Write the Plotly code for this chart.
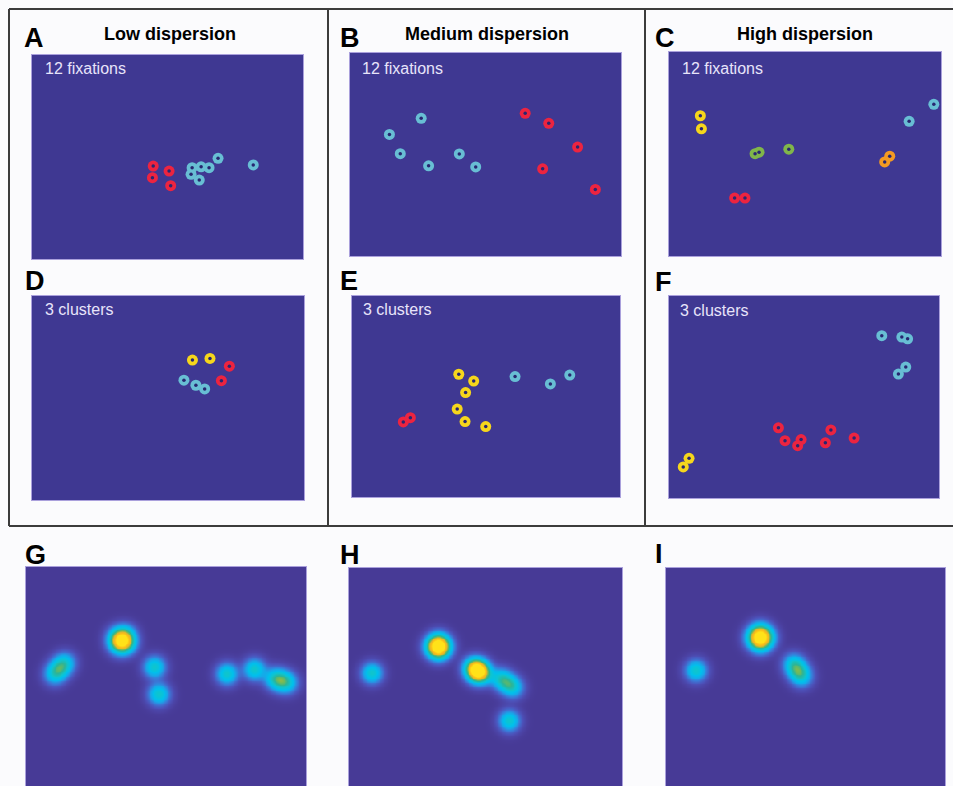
import numpy as np
import plotly.graph_objects as go

FIG_W, FIG_H = 953, 786
FONT = "Arial, Liberation Sans, sans-serif"

# ---------------- fixation data (screen coordinates, 1024 x 768) ----------------
# Panel A - low dispersion, 12 fixations
A_red_x = [458, 455, 518, 524]
A_red_y = [418, 462, 437, 492]
A_cyan_x = [605, 601, 639, 669, 632, 703, 836]
A_cyan_y = [424, 449, 421, 424, 471, 389, 414]

# Panel B - medium dispersion, 12 fixations
B_cyan_x = [269, 149, 190, 297, 413, 475]
B_cyan_y = [247, 308, 381, 427, 382, 431]
B_red_x = [662, 751, 860, 728, 927]
B_red_y = [228, 266, 356, 438, 516]

# Panel C - high dispersion, 12 fixations
C_yellow_x = [118, 122]
C_yellow_y = [240, 289]
C_green_x = [324, 339, 451]
C_green_y = [383, 377, 366]
C_red_x = [247, 286]
C_red_y = [550, 550]
C_orange_x = [812, 831]
C_orange_y = [414, 392]
C_cyan_x = [904, 997]
C_cyan_y = [261, 197]

# Panel D - low dispersion, 3 clusters
D_yellow_x = [604, 670]
D_yellow_y = [241, 235]
D_red_x = [743, 713]
D_red_y = [264, 319]
D_cyan_x = [572, 617, 650]
D_cyan_y = [317, 336, 350]

# Panel E - medium dispersion, 3 clusters
E_yellow_x = [408, 465, 434, 402, 432, 511]
E_yellow_y = [299, 325, 369, 432, 480, 499]
E_red_x = [196, 223]
E_red_y = [481, 465]
E_cyan_x = [623, 758, 832]
E_cyan_y = [308, 336, 302]

# Panel F - high dispersion, 3 clusters
F_cyan_x = [807, 883, 905, 898, 870]
F_cyan_y = [151, 156, 163, 270, 297]
F_red_x = [415, 440, 501, 488, 614, 593, 702]
F_red_y = [501, 550, 546, 569, 509, 558, 540]
F_yellow_x = [76, 54]
F_yellow_y = [617, 650]

# Fixation maps (G, H, I): fixation centres and weights
G_fix_x = [333, 362, 366, 340, 102, 122, 142, 469, 485, 734, 834, 906, 931, 956]
G_fix_y = [258, 250, 278, 282, 392, 370, 348, 365, 464, 390, 373, 406, 414, 422]
G_fix_w = [0.41, 0.41, 0.41, 0.41, 0.30, 0.30, 0.30, 0.42, 0.42, 0.42, 0.42,
           0.30, 0.30, 0.30]

H_fix_x = [85, 316, 352, 334, 334, 463, 499, 476, 486, 566, 591, 616, 600]
H_fix_y = [393, 293, 293, 275, 311, 372, 396, 394, 374, 412, 430, 448, 572]
H_fix_w = [0.42, 0.42, 0.42, 0.42, 0.42, 0.43, 0.43, 0.43, 0.43,
           0.30, 0.30, 0.30, 0.42]

I_fix_x = [109, 325, 365, 345, 345, 466, 482, 498]
I_fix_y = [375, 254, 254, 234, 274, 350, 374, 398]
I_fix_w = [0.42, 0.42, 0.42, 0.42, 0.42, 0.31, 0.31, 0.31]

KERNEL_SIGMA = 26

# ---------------- styling ----------------
COL = {
    "red": "rgb(236,36,64)",
    "cyan": "rgb(104,190,212)",
    "yellow": "rgb(246,214,28)",
    "green": "rgb(128,182,74)",
    "orange": "rgb(244,154,34)",
}
PANEL_BG = "rgb(63,56,146)"
DOT_COL = "rgb(40,38,112)"

HEAT_SCALE = [
    [0.000, "rgb(71,58,150)"],
    [0.015, "rgb(75,65,162)"],
    [0.060, "rgb(76,82,186)"],
    [0.140, "rgb(58,122,216)"],
    [0.220, "rgb(24,166,232)"],
    [0.310, "rgb(0,192,236)"],
    [0.420, "rgb(15,196,205)"],
    [0.540, "rgb(45,180,150)"],
    [0.640, "rgb(120,186,85)"],
    [0.740, "rgb(225,180,45)"],
    [0.860, "rgb(250,192,22)"],
    [1.000, "rgb(255,226,25)"],
]

# panel placement in pixels: (left, right, top, bottom)
PANELS = {
    "A": (32, 303, 55, 259),
    "B": (350, 621, 53, 256),
    "C": (669, 941, 52, 256),
    "D": (32, 304, 296, 500),
    "E": (352, 620, 296, 497),
    "F": (669, 939, 296, 498),
    "G": (26, 306, 567, 786),
    "H": (349, 622, 568, 786),
    "I": (666, 945, 568, 786),
}
ORDER = ["A", "B", "C", "D", "E", "F", "G", "H", "I"]

fig = go.Figure()
layout = dict(
    width=FIG_W, height=FIG_H,
    margin=dict(l=0, r=0, t=0, b=0),
    paper_bgcolor="rgb(251,251,253)",
    plot_bgcolor=PANEL_BG,
    showlegend=False,
)


def axis_names(i):
    return ("x" if i == 0 else f"x{i+1}"), ("y" if i == 0 else f"y{i+1}")


for i, key in enumerate(ORDER):
    l, r, t, b = PANELS[key]
    xa, ya = axis_names(i)
    xkey = "xaxis" if i == 0 else f"xaxis{i+1}"
    ykey = "yaxis" if i == 0 else f"yaxis{i+1}"
    if key in "ABCDEF":
        yr = 768
    else:
        yr = 1024 * (b - t) / (r - l)
    common = dict(showgrid=False, zeroline=False, showticklabels=False, ticks="",
                  showline=True, linecolor="rgb(170,160,220)", linewidth=1, mirror=True,
                  fixedrange=True)
    layout[xkey] = dict(domain=[l / FIG_W, r / FIG_W], range=[0, 1024], anchor=ya, **common)
    layout[ykey] = dict(domain=[1 - b / FIG_H, 1 - t / FIG_H], range=[yr, 0], anchor=xa, **common)


def add_fixations(i, xs, ys, colour):
    xa, ya = axis_names(i)
    fig.add_trace(go.Scatter(x=xs, y=ys, mode="markers", xaxis=xa, yaxis=ya,
                             marker=dict(size=11, color=colour, line=dict(width=0)),
                             hoverinfo="skip"))
    fig.add_trace(go.Scatter(x=xs, y=ys, mode="markers", xaxis=xa, yaxis=ya,
                             marker=dict(size=3.5, color=DOT_COL, line=dict(width=0)),
                             hoverinfo="skip"))


scatter_sets = {
    "A": [(A_red_x, A_red_y, "red"), (A_cyan_x, A_cyan_y, "cyan")],
    "B": [(B_cyan_x, B_cyan_y, "cyan"), (B_red_x, B_red_y, "red")],
    "C": [(C_yellow_x, C_yellow_y, "yellow"), (C_green_x, C_green_y, "green"),
          (C_red_x, C_red_y, "red"), (C_orange_x, C_orange_y, "orange"),
          (C_cyan_x, C_cyan_y, "cyan")],
    "D": [(D_yellow_x, D_yellow_y, "yellow"), (D_red_x, D_red_y, "red"),
          (D_cyan_x, D_cyan_y, "cyan")],
    "E": [(E_yellow_x, E_yellow_y, "yellow"), (E_red_x, E_red_y, "red"),
          (E_cyan_x, E_cyan_y, "cyan")],
    "F": [(F_cyan_x, F_cyan_y, "cyan"), (F_red_x, F_red_y, "red"),
          (F_yellow_x, F_yellow_y, "yellow")],
}
for key, sets in scatter_sets.items():
    i = ORDER.index(key)
    for xs, ys, c in sets:
        add_fixations(i, xs, ys, COL[c])


def fixation_map(xs, ys, ws, ymax):
    gx = np.linspace(0, 1024, 341)
    gy = np.linspace(0, ymax, int(ymax / 3) + 1)
    X, Y = np.meshgrid(gx, gy)
    Z = np.zeros_like(X)
    for x0, y0, w in zip(xs, ys, ws):
        Z += w * np.exp(-((X - x0) ** 2 + (Y - y0) ** 2) / (2 * KERNEL_SIGMA ** 2))
    return gx, gy, Z


heat_sets = {"G": (G_fix_x, G_fix_y, G_fix_w),
             "H": (H_fix_x, H_fix_y, H_fix_w),
             "I": (I_fix_x, I_fix_y, I_fix_w)}
for key, (xs, ys, ws) in heat_sets.items():
    i = ORDER.index(key)
    l, r, t, b = PANELS[key]
    ymax = 1024 * (b - t) / (r - l)
    gx, gy, Z = fixation_map(xs, ys, ws, ymax)
    xa, ya = axis_names(i)
    fig.add_trace(go.Heatmap(x=gx, y=gy, z=Z, xaxis=xa, yaxis=ya,
                             colorscale=HEAT_SCALE, zmin=0, zmax=1,
                             zsmooth="best", showscale=False, hoverinfo="skip"))

# ---------------- text ----------------
ann = []


def text(x, y, s, size, colour="black", bold=False, anchor="left"):
    ann.append(dict(xref="paper", yref="paper", x=x / FIG_W, y=1 - y / FIG_H,
                    xanchor=anchor, yanchor="middle", showarrow=False,
                    text=f"<b>{s}</b>" if bold else s,
                    font=dict(family=FONT, size=size, color=colour)))


letters = [("A", 22, 38), ("B", 338, 38), ("C", 653, 38),
           ("D", 23, 281), ("E", 338, 281), ("F", 653, 282),
           ("G", 23, 555), ("H", 338, 555), ("I", 653, 554)]
for s, x, y in letters:
    text(x, y, s, 27, bold=True)

titles = [("Low dispersion", 170), ("Medium dispersion", 487), ("High dispersion", 805)]
for s, x in titles:
    text(x, 34, s, 18, bold=True, anchor="center")

sub = "rgb(232,228,250)"
for x in (43, 360, 680):
    text(x, 69, "12 fixations", 16, sub)
for x, y in ((43, 309), (361, 309), (678, 310)):
    text(x, y, "3 clusters", 16, sub)

# ---------------- frame around the upper panels ----------------
shapes = []
frame_col = "rgb(60,60,60)"
for (x0, y0, x1, y1) in [(9, 9, 953, 9), (9, 526, 953, 526), (9, 9, 9, 526),
                         (328, 9, 328, 526), (645, 9, 645, 526)]:
    shapes.append(dict(type="line", xref="paper", yref="paper",
                       x0=x0 / FIG_W, x1=x1 / FIG_W, y0=1 - y0 / FIG_H, y1=1 - y1 / FIG_H,
                       line=dict(color=frame_col, width=2)))

layout["annotations"] = ann
layout["shapes"] = shapes
fig.update_layout(**layout)
fig.write_html("out.html")
